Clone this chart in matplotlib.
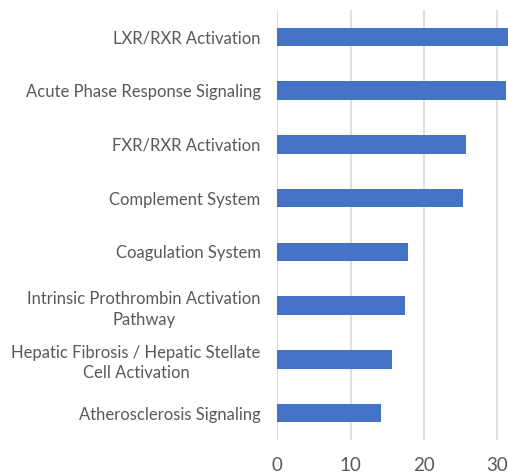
import matplotlib
matplotlib.use("Agg")
import matplotlib.pyplot as plt

# pathways, top to bottom
pathways = [
    "LXR/RXR Activation",
    "Acute Phase Response Signaling",
    "FXR/RXR Activation",
    "Complement System",
    "Coagulation System",
    "Intrinsic Prothrombin Activation\nPathway",
    "Hepatic Fibrosis / Hepatic Stellate\nCell Activation",
    "Atherosclerosis Signaling",
]
scores = [33.0, 31.2, 25.8, 25.4, 17.8, 17.5, 15.7, 14.1]
x_ticks = [0, 10, 20, 30]

plt.rcParams['font.family'] = ['Lato', 'DejaVu Sans']
text_grey = '#595959'

fig = plt.figure(figsize=(5.08, 4.76), dpi=100)
ax = fig.add_axes([0.546, 0.0756, 0.454, 0.9034])

pos = list(range(len(pathways)))
ax.barh(pos, scores, height=0.34, color='#4472C4', zorder=3)

ax.set_ylim(len(pathways) - 0.5, -0.5)
ax.set_xlim(0, 31.5)
ax.set_xticks(x_ticks)
ax.set_xticklabels([str(t) for t in x_ticks], fontsize=13.5, color=text_grey)
ax.set_yticks(pos)
ax.set_yticklabels(pathways, fontsize=12, color=text_grey,
                   multialignment='center', linespacing=1.35)

ax.grid(axis='x', color='#D9D9D9', linewidth=1.2, zorder=0)
for s in ax.spines.values():
    s.set_visible(False)
ax.tick_params(axis='both', length=0)
ax.tick_params(axis='x', pad=12)
ax.tick_params(axis='y', pad=12)

fig.savefig('out.png', dpi=100)
plt.close()
